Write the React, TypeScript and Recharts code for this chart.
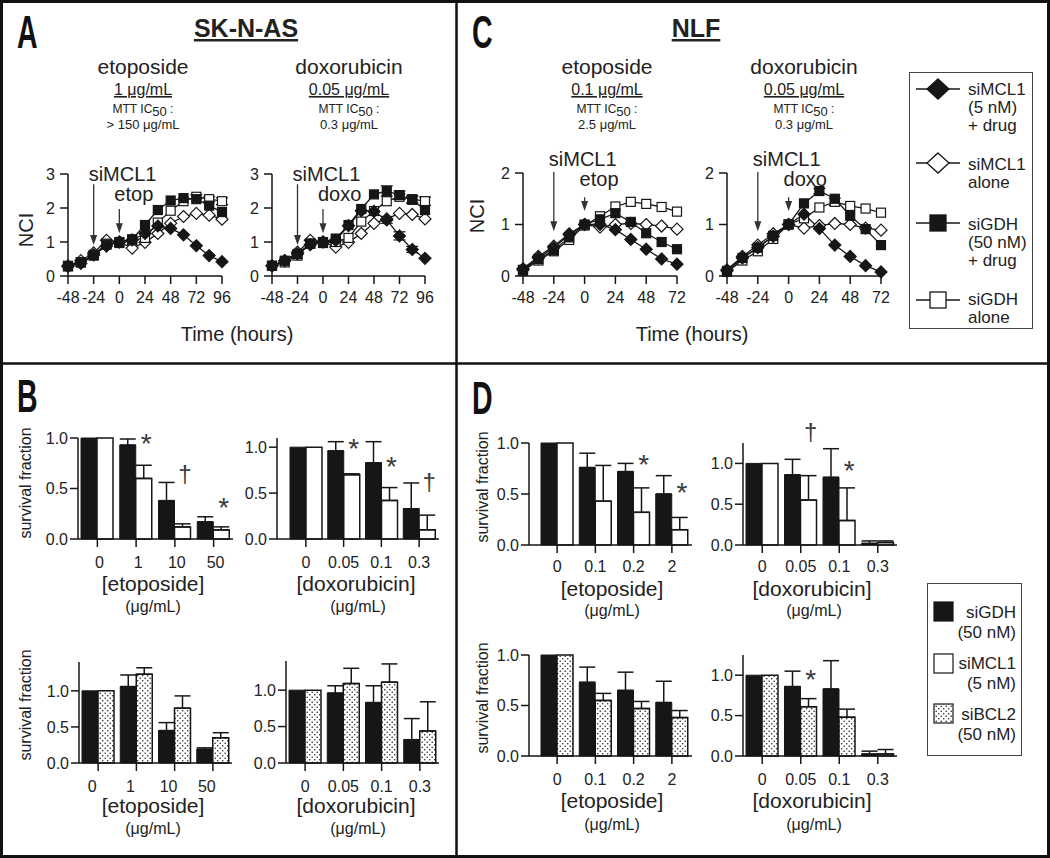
import React from 'react';
import { LineChart, Line, XAxis, YAxis, BarChart, Bar, ErrorBar, ReferenceLine, ReferenceDot } from 'recharts';

const FONT = '"Liberation Sans", Arial, Helvetica, sans-serif';
const INK = '#161616';
const TXT = '#222';
const MT = 45; // room above each plot for arrows / marks

// ---- time courses (NCI) ----
const hoursA = [-48, -36, -24, -12, 0, 12, 24, 36, 48, 60, 72, 84, 96];
const hoursC = [-48, -36, -24, -12, 0, 12, 24, 36, 48, 60, 72];
const tickHoursA = [-48, -24, 0, 24, 48, 72, 96];
const tickHoursC = [-48, -24, 0, 24, 48, 72];

// SK-N-AS, etoposide
const skEtopMclDrug = [0.28, 0.37, 0.62, 0.88, 1.0, 1.06, 1.25, 1.47, 1.4, 1.21, 0.89, 0.6, 0.42];
const skEtopMclAlone = [0.3, 0.45, 0.68, 1.05, 1.0, 0.82, 0.99, 1.25, 1.55, 1.75, 1.84, 1.79, 1.67];
const skEtopGdhDrug = [0.28, 0.4, 0.6, 0.92, 1.0, 1.08, 1.5, 1.94, 2.22, 2.29, 2.26, 2.07, 1.88];
const skEtopGdhAlone = [0.3, 0.4, 0.62, 0.95, 0.97, 1.05, 1.12, 1.57, 1.92, 2.2, 2.33, 2.26, 2.2];
const skEtopGdhAloneErr = [0, 0, 0, 0, 0, 0, 0, 0, 0, 0, 0.06, 0.07, 0.1];

// SK-N-AS, doxorubicin
const skDoxoMclDrug = [0.3, 0.45, 0.65, 0.92, 1.0, 1.05, 1.48, 1.92, 1.9, 1.65, 1.18, 0.78, 0.52];
const skDoxoMclDrugErr = [0, 0, 0, 0, 0, 0, 0, 0, 0, 0.1, 0.12, 0.09, 0];
const skDoxoMclAlone = [0.3, 0.45, 0.7, 1.05, 1.0, 0.85, 0.99, 1.25, 1.55, 1.68, 1.84, 1.81, 1.68];
const skDoxoGdhDrug = [0.3, 0.45, 0.65, 0.95, 1.0, 1.1, 1.5, 1.97, 2.4, 2.5, 2.38, 2.24, 1.94];
const skDoxoGdhDrugErr = [0, 0, 0, 0, 0, 0, 0, 0, 0, 0.15, 0.12, 0.1, 0];
const skDoxoGdhAlone = [0.3, 0.4, 0.6, 0.95, 0.97, 1.0, 1.12, 1.6, 1.91, 2.2, 2.33, 2.26, 2.2];
const skDoxoGdhAloneErr = [0, 0, 0, 0, 0, 0, 0, 0, 0, 0, 0.08, 0.1, 0.12];

// NLF, etoposide
const nlfEtopMclDrug = [0.12, 0.35, 0.55, 0.8, 1.0, 1.0, 0.9, 0.71, 0.52, 0.33, 0.23];
const nlfEtopMclAlone = [0.14, 0.38, 0.58, 0.82, 1.0, 0.95, 1.0, 1.02, 1.0, 0.97, 0.91];
const nlfEtopGdhDrug = [0.12, 0.33, 0.5, 0.75, 1.0, 1.1, 1.22, 1.05, 0.83, 0.66, 0.52];
const nlfEtopGdhAlone = [0.1, 0.3, 0.48, 0.7, 0.98, 1.16, 1.35, 1.44, 1.4, 1.34, 1.25];

// NLF, doxorubicin
const nlfDoxoMclDrug = [0.1, 0.35, 0.55, 0.77, 1.0, 1.2, 0.92, 0.6, 0.38, 0.2, 0.08];
const nlfDoxoMclAlone = [0.12, 0.38, 0.6, 0.82, 1.0, 0.93, 0.98, 1.02, 1.0, 0.93, 0.89];
const nlfDoxoGdhDrug = [0.1, 0.35, 0.55, 0.78, 1.0, 1.41, 1.65, 1.5, 1.17, 0.91, 0.6];
const nlfDoxoGdhDrugErr = [0, 0, 0, 0, 0, 0, 0.05, 0, 0, 0, 0];
const nlfDoxoGdhAlone = [0.08, 0.3, 0.48, 0.72, 1.0, 1.12, 1.33, 1.44, 1.36, 1.31, 1.23];
const nlfDoxoGdhAloneErr = [0, 0, 0, 0, 0, 0, 0, 0.07, 0, 0, 0];

// ---- survival fractions ----
const etopDosesSK = ['0', '1', '10', '50'];
const doxoDoses = ['0', '0.05', '0.1', '0.3'];
const etopDosesNLF = ['0', '0.1', '0.2', '2'];

// B, top: siGDH vs siMCL1
const bEtopGdh = [1.0, 0.93, 0.38, 0.17];
const bEtopGdhErr = [0, 0.06, 0.18, 0.05];
const bEtopMcl = [1.0, 0.6, 0.12, 0.09];
const bEtopMclErr = [0, 0.13, 0.03, 0.03];
const bDoxoGdh = [1.0, 0.96, 0.83, 0.33];
const bDoxoGdhErr = [0, 0.1, 0.23, 0.28];
const bDoxoMcl = [1.0, 0.7, 0.42, 0.1];
const bDoxoMclErr = [0, 0.01, 0.14, 0.16];
// B, bottom: siGDH vs siBCL2
const bEtopGdh2 = [1.0, 1.06, 0.45, 0.19];
const bEtopGdh2Err = [0, 0.16, 0.11, 0.02];
const bEtopBcl = [1.0, 1.23, 0.76, 0.35];
const bEtopBclErr = [0, 0.09, 0.17, 0.07];
const bDoxoGdh2 = [1.0, 0.96, 0.83, 0.32];
const bDoxoGdh2Err = [0, 0.1, 0.23, 0.29];
const bDoxoBcl = [1.0, 1.09, 1.11, 0.44];
const bDoxoBclErr = [0, 0.21, 0.25, 0.4];
// D, top
const dEtopGdh = [1.0, 0.76, 0.72, 0.5];
const dEtopGdhErr = [0, 0.14, 0.08, 0.18];
const dEtopMcl = [1.0, 0.43, 0.32, 0.15];
const dEtopMclErr = [0, 0.35, 0.24, 0.12];
const dDoxoGdh = [1.0, 0.86, 0.83, 0.02];
const dDoxoGdhErr = [0, 0.19, 0.35, 0.03];
const dDoxoMcl = [1.0, 0.55, 0.3, 0.03];
const dDoxoMclErr = [0, 0.3, 0.4, 0.02];
// D, bottom
const dEtopGdh2 = [1.0, 0.73, 0.65, 0.53];
const dEtopGdh2Err = [0, 0.15, 0.18, 0.21];
const dEtopBcl = [1.0, 0.55, 0.47, 0.38];
const dEtopBclErr = [0, 0.07, 0.07, 0.07];
const dDoxoGdh2 = [1.0, 0.86, 0.83, 0.025];
const dDoxoGdh2Err = [0, 0.19, 0.35, 0.035];
const dDoxoBcl = [1.0, 0.61, 0.48, 0.025];
const dDoxoBclErr = [0, 0.1, 0.1, 0.055];

// significance marks: dose, symbol, height (survival fraction units)
const sigBEtopDose = ['1', '10', '50'];
const sigBEtopSym = ['*', '†', '*'];
const sigBEtopAt = [1.0, 0.64, 0.37];
const sigBDoxoDose = ['0.05', '0.1', '0.3'];
const sigBDoxoSym = ['*', '*', '†'];
const sigBDoxoAt = [1.05, 0.85, 0.61];
const sigDEtopDose = ['0.2', '2'];
const sigDEtopSym = ['*', '*'];
const sigDEtopAt = [0.85, 0.57];
const sigDDoxoDose = ['0.05', '0.1'];
const sigDDoxoSym = ['†', '*'];
const sigDDoxoAt = [1.38, 0.98];
const sigDDoxo2Dose = ['0.05'];
const sigDDoxo2Sym = ['*'];
const sigDDoxo2At = [1.02];

const diamondDot = (filled: boolean, r = 6) => (p: any) => {
  const { cx, cy, index } = p;
  if (cx == null || cy == null) return <g key={index} />;
  return (
    <path key={index} d={`M${cx},${cy - r}L${cx + r},${cy}L${cx},${cy + r}L${cx - r},${cy}Z`}
      fill={filled ? INK : '#fff'} stroke={INK} strokeWidth={1.2} />
  );
};
const squareDot = (filled: boolean, r = 4.5) => (p: any) => {
  const { cx, cy, index } = p;
  if (cx == null || cy == null) return <g key={index} />;
  return <rect key={index} x={cx - r} y={cy - r} width={2 * r} height={2 * r} fill={filled ? INK : '#fff'} stroke={INK} strokeWidth={1.2} />;
};

const arrowShape = (label: string, dy: number) => (p: any) => {
  const { x1, y1, x2, y2 } = p;
  return (
    <g>
      <line x1={x1} y1={y1} x2={x2} y2={y2 - 8} stroke="#333" strokeWidth={1.3} />
      <path d={`M${x2 - 3.5},${y2 - 10}L${x2 + 3.5},${y2 - 10}L${x2},${y2}Z`} fill="#333" />
      <text x={x1 - 5} y={y1 - dy} fontSize={20} fontFamily={FONT} fill={TXT}>{label}</text>
    </g>
  );
};

const axisStyle = { stroke: INK, strokeWidth: 1.5 };
const tickFont = { fontSize: 16, fill: TXT, fontFamily: FONT };

function NciChart(props: any) {
  const { hours, ticks, yMax, md, ma, gd, ga, errs = {}, x, y, w, h, drug, arr } = props;
  const rows = hours.map((t: number, i: number) => ({
    t, md: md[i], ma: ma[i], gd: gd[i], ga: ga[i],
    mdE: errs.md ? errs.md[i] : 0, gdE: errs.gd ? errs.gd[i] : 0, gaE: errs.ga ? errs.ga[i] : 0,
  }));
  const yTicks = Array.from({ length: yMax + 1 }, (_, i) => i);
  return (
    <div style={{ position: 'absolute', left: x - 50, top: y - MT }}>
      <LineChart width={w + 60} height={h + MT + 40} data={rows} margin={{ top: MT, right: 10, bottom: 0, left: 0 }}>
        <XAxis dataKey="t" type="number" domain={[hours[0], hours[hours.length - 1]]} ticks={ticks} interval={0}
          height={40} tickSize={8} tickMargin={8} axisLine={axisStyle} tickLine={axisStyle} tick={tickFont} />
        <YAxis type="number" domain={[0, yMax]} ticks={yTicks} width={50} tickSize={8} tickMargin={5}
          axisLine={axisStyle} tickLine={axisStyle} tick={tickFont} />
        <ReferenceLine segment={[{ x: -24, y: arr[0] }, { x: -24, y: arr[1] }]} ifOverflow="visible" shape={arrowShape('siMCL1', arr[4])} />
        <ReferenceLine segment={[{ x: 0, y: arr[2] }, { x: 0, y: arr[3] }]} ifOverflow="visible" shape={arrowShape(drug, arr[5])} />
        <Line dataKey="ma" stroke={INK} strokeWidth={1.3} dot={diamondDot(false)} activeDot={false} isAnimationActive={false} />
        <Line dataKey="ga" stroke={INK} strokeWidth={1.3} dot={squareDot(false)} activeDot={false} isAnimationActive={false}>
          <ErrorBar dataKey="gaE" width={6} stroke={INK} strokeWidth={1.2} />
        </Line>
        <Line dataKey="gd" stroke={INK} strokeWidth={1.3} dot={squareDot(true)} activeDot={false} isAnimationActive={false}>
          <ErrorBar dataKey="gdE" width={6} stroke={INK} strokeWidth={1.2} />
        </Line>
        <Line dataKey="md" stroke={INK} strokeWidth={1.3} dot={diamondDot(true)} activeDot={false} isAnimationActive={false}>
          <ErrorBar dataKey="mdE" width={6} stroke={INK} strokeWidth={1.2} />
        </Line>
      </LineChart>
    </div>
  );
}

const sigShape = (sym: string) => (p: any) => {
  const { cx, cy } = p;
  const fs = sym === '*' ? 28 : 24;
  const base = sym === '*' ? cy + 0.55 * fs : cy + 0.3 * fs;
  return <text x={cx + 10} y={base} textAnchor="middle" fontSize={fs} fontFamily={FONT} fill="#3a3a3a">{sym}</text>;
};

function SurvChart(props: any) {
  const { doses, a, aErr, b, bErr, fill, sig, x, y, w, h, yMax, padL = 0, padR = 0, tickDx = 0, tickGap = 10 } = props;
  const rows = doses.map((c: string, i: number) => ({
    c, a: a[i], aE: aErr[i] ? [0, aErr[i]] : null, b: b[i], bE: bErr[i] ? [0, bErr[i]] : null,
  }));
  return (
    <div style={{ position: 'absolute', left: x - 50, top: y - MT }}>
      <BarChart width={w + 60} height={h + MT + 40} data={rows} barGap={0} margin={{ top: MT, right: 10, bottom: 0, left: 0 }}>
        <XAxis dataKey="c" interval={0} height={40} tickSize={8} tickMargin={tickGap} padding={{ left: padL, right: padR }}
          axisLine={axisStyle} tickLine={axisStyle} tick={{ ...tickFont, dx: tickDx }} />
        <YAxis type="number" domain={[0, yMax]} ticks={[0, 0.5, 1]} tickFormatter={(v: number) => v.toFixed(1)}
          width={50} tickSize={8} tickMargin={2} axisLine={axisStyle} tickLine={axisStyle} tick={tickFont} />
        <Bar dataKey="a" fill={INK} stroke={INK} strokeWidth={1} barSize={16} isAnimationActive={false}>
          <ErrorBar dataKey="aE" width={8} stroke={INK} strokeWidth={1.5} />
        </Bar>
        <Bar dataKey="b" fill={fill} stroke={INK} strokeWidth={1.5} barSize={16} isAnimationActive={false}>
          <ErrorBar dataKey="bE" width={8} stroke={INK} strokeWidth={1.5} />
        </Bar>
        {sig && sig.dose.map((d: string, i: number) => (
          <ReferenceDot key={d} x={d} y={sig.at[i]} ifOverflow="visible" shape={sigShape(sig.sym[i])} />
        ))}
      </BarChart>
    </div>
  );
}

function DrugHeader({ cx, name, conc, ic50 }: any) {
  return (
    <g fontFamily={FONT} fill={TXT} textAnchor="middle">
      <text x={cx} y={74} fontSize={21}>{name}</text>
      <text x={cx} y={95} fontSize={16} textDecoration="underline">{conc}</text>
      <text x={cx} y={113} fontSize={12}>MTT IC<tspan fontSize={13} dy={3}>50</tspan><tspan dy={-3}> :</tspan></text>
      <text x={cx} y={129} fontSize={13}>{ic50}</text>
    </g>
  );
}

const T = (p: any) => <text fontFamily={FONT} fill={TXT} {...p} />;
const Letter = ({ x, y, c }: any) => (
  <text transform={`translate(${x},${y}) scale(0.62,1)`} fontFamily='"Liberation Sans Narrow", "Liberation Sans", sans-serif'
    fontWeight="bold" fontSize={46} fill="#111">{c}</text>
);

export default function App() {
  return (
    <div style={{ position: 'absolute', left: 0, top: 0, width: 1050, height: 858, background: '#fff', overflow: 'hidden' }}>
      <svg width={0} height={0} style={{ position: 'absolute' }}>
        <defs>
          <pattern id="dotfill" width={5} height={5} patternUnits="userSpaceOnUse">
            <rect width={5} height={5} fill="#fff" />
            <circle cx={1.2} cy={1.2} r={0.8} fill="#222" />
            <circle cx={3.7} cy={3.7} r={0.8} fill="#222" />
          </pattern>
        </defs>
      </svg>

      {/* A */}
      <NciChart hours={hoursA} ticks={tickHoursA} yMax={3} x={68} y={174} w={154} h={102} drug="etop"
        md={skEtopMclDrug} ma={skEtopMclAlone} gd={skEtopGdhDrug} ga={skEtopGdhAlone}
        errs={{ ga: skEtopGdhAloneErr }} arr={[2.7, 0.91, 1.97, 1.26, 3, 8]} />
      <NciChart hours={hoursA} ticks={tickHoursA} yMax={3} x={272} y={174} w={153} h={102} drug="doxo"
        md={skDoxoMclDrug} ma={skDoxoMclAlone} gd={skDoxoGdhDrug} ga={skDoxoGdhAlone}
        errs={{ md: skDoxoMclDrugErr, gd: skDoxoGdhDrugErr, ga: skDoxoGdhAloneErr }} arr={[2.7, 0.91, 1.97, 1.26, 3, 8]} />
      {/* C */}
      <NciChart hours={hoursC} ticks={tickHoursC} yMax={2} x={523} y={173} w={154} h={103} drug="etop"
        md={nlfEtopMclDrug} ma={nlfEtopMclAlone} gd={nlfEtopGdhDrug} ga={nlfEtopGdhAlone}
        arr={[2.02, 0.87, 1.53, 1.26, 6, 11]} />
      <NciChart hours={hoursC} ticks={tickHoursC} yMax={2} x={727} y={173} w={154} h={103} drug="doxo"
        md={nlfDoxoMclDrug} ma={nlfDoxoMclAlone} gd={nlfDoxoGdhDrug} ga={nlfDoxoGdhAlone}
        errs={{ gd: nlfDoxoGdhDrugErr, ga: nlfDoxoGdhAloneErr }} arr={[2.02, 0.87, 1.53, 1.26, 6, 11]} />

      {/* B */}
      <SurvChart doses={etopDosesSK} a={bEtopGdh} aErr={bEtopGdhErr} b={bEtopMcl} bErr={bEtopMclErr} fill="#fff"
        sig={{ dose: sigBEtopDose, sym: sigBEtopSym, at: sigBEtopAt }} x={78} y={438} w={155} h={101} yMax={1} tickDx={2} />
      <SurvChart doses={doxoDoses} a={bDoxoGdh} aErr={bDoxoGdhErr} b={bDoxoMcl} bErr={bDoxoMclErr} fill="#fff"
        sig={{ dose: sigBDoxoDose, sym: sigBDoxoSym, at: sigBDoxoAt }} x={277} y={438} w={162} h={101} yMax={1.1} padL={10} padR={1} />
      <SurvChart doses={etopDosesSK} a={bEtopGdh2} aErr={bEtopGdh2Err} b={bEtopBcl} bErr={bEtopBclErr} fill="url(#dotfill)"
        x={79} y={662} w={153} h={101} yMax={1.4} tickDx={-6} />
      <SurvChart doses={doxoDoses} a={bDoxoGdh2} aErr={bDoxoGdh2Err} b={bDoxoBcl} bErr={bDoxoBclErr} fill="url(#dotfill)"
        x={286} y={661} w={153} h={102} yMax={1.4} />
      {/* D */}
      <SurvChart doses={etopDosesNLF} a={dEtopGdh} aErr={dEtopGdhErr} b={dEtopMcl} bErr={dEtopMclErr} fill="#fff" tickGap={8}
        sig={{ dose: sigDEtopDose, sym: sigDEtopSym, at: sigDEtopAt }} x={529} y={443} w={163} h={102} yMax={1} padL={9} padR={1} />
      <SurvChart doses={doxoDoses} a={dDoxoGdh} aErr={dDoxoGdhErr} b={dDoxoMcl} bErr={dDoxoMclErr} fill="#fff" tickGap={8}
        sig={{ dose: sigDDoxoDose, sym: sigDDoxoSym, at: sigDDoxoAt }} x={743} y={443} w={154} h={102} yMax={1.25} />
      <SurvChart doses={etopDosesNLF} a={dEtopGdh2} aErr={dEtopGdh2Err} b={dEtopBcl} bErr={dEtopBclErr} fill="url(#dotfill)"
        x={529} y={655} w={163} h={101} yMax={1} padL={9} padR={1} />
      <SurvChart doses={doxoDoses} a={dDoxoGdh2} aErr={dDoxoGdh2Err} b={dDoxoBcl} bErr={dDoxoBclErr} fill="url(#dotfill)"
        sig={{ dose: sigDDoxo2Dose, sym: sigDDoxo2Sym, at: sigDDoxo2At }} x={743} y={655} w={154} h={101} yMax={1.25} />

      <svg width={1050} height={858} style={{ position: 'absolute', left: 0, top: 0, pointerEvents: 'none' }}>
        {/* frame */}
        <rect x={1.5} y={1.5} width={1047} height={855} fill="none" stroke="#111" strokeWidth={3} />
        <line x1={456.5} y1={0} x2={456.5} y2={858} stroke="#111" strokeWidth={2.5} />
        <line x1={0} y1={363.5} x2={1050} y2={363.5} stroke="#111" strokeWidth={2.5} />

        <Letter x={17} y={48} c="A" />
        <Letter x={472} y={48} c="C" />
        <Letter x={17} y={412} c="B" />
        <Letter x={472} y={414} c="D" />

        <T x={246} y={37} fontSize={25} fontWeight="bold" textAnchor="middle" textDecoration="underline">SK-N-AS</T>
        <T x={696} y={37} fontSize={25} fontWeight="bold" textAnchor="middle" textDecoration="underline">NLF</T>

        <DrugHeader cx={143} name="etoposide" conc="1 μg/mL" ic50="> 150 μg/mL" />
        <DrugHeader cx={349} name="doxorubicin" conc="0.05 μg/mL" ic50="0.3 μg/mL" />
        <DrugHeader cx={607} name="etoposide" conc="0.1 μg/mL" ic50="2.5 μg/mL" />
        <DrugHeader cx={804} name="doxorubicin" conc="0.05 μg/mL" ic50="0.3 μg/mL" />

        <T x={33} y={230} fontSize={20} textAnchor="middle" transform="rotate(-90 33 230)">NCI</T>
        <T x={484} y={216} fontSize={20} textAnchor="middle" transform="rotate(-90 484 216)">NCI</T>
        <T x={237} y={341} fontSize={20} textAnchor="middle">Time (hours)</T>
        <T x={692} y={341} fontSize={20} textAnchor="middle">Time (hours)</T>

        {/* survival axis titles */}
        <T x={31} y={483} fontSize={16} textAnchor="middle" transform="rotate(-90 31 483)">survival fraction</T>
        <T x={31} y={705} fontSize={16} textAnchor="middle" transform="rotate(-90 31 705)">survival fraction</T>
        <T x={488} y={487} fontSize={16} textAnchor="middle" transform="rotate(-90 488 487)">survival fraction</T>
        <T x={488} y={698} fontSize={16} textAnchor="middle" transform="rotate(-90 488 698)">survival fraction</T>

        {[[153, 356, 591, 612], [153, 356, 813, 834], [612, 812, 596, 616], [612, 812, 808, 830]].map(([ex, dx, y1, y2], i) => (
          <g key={i}>
            <T x={ex} y={y1} fontSize={21} textAnchor="middle">[etoposide]</T>
            <T x={ex} y={y2} fontSize={16} textAnchor="middle">(μg/mL)</T>
            <T x={dx} y={y1} fontSize={21} textAnchor="middle">[doxorubicin]</T>
            <T x={dx + 2} y={y2} fontSize={16} textAnchor="middle">(μg/mL)</T>
          </g>
        ))}

        {/* legend: time courses */}
        <rect x={909.5} y={72.5} width={123} height={256} fill="#fff" stroke="#444" strokeWidth={1} />
        {[
          { cy: 89, m: 'd', f: true, lines: ['siMCL1', '(5 nM)', '+ drug'], by: 95 },
          { cy: 163, m: 'd', f: false, lines: ['siMCL1', 'alone'], by: 170 },
          { cy: 223, m: 's', f: true, lines: ['siGDH', '(50 nM)', '+ drug'], by: 230 },
          { cy: 300, m: 's', f: false, lines: ['siGDH', 'alone'], by: 305 },
        ].map((e, i) => (
          <g key={i}>
            <line x1={916} y1={e.cy} x2={960} y2={e.cy} stroke={INK} strokeWidth={1.3} />
            {e.m === 'd'
              ? <path d={`M938,${e.cy - 10}L949,${e.cy}L938,${e.cy + 10}L927,${e.cy}Z`} fill={e.f ? INK : '#fff'} stroke={INK} strokeWidth={1.3} />
              : <rect x={930} y={e.cy - 8} width={16} height={16} fill={e.f ? INK : '#fff'} stroke={INK} strokeWidth={1.3} />}
            {e.lines.map((s, j) => (
              <T key={j} x={968} y={e.by + j * 18} fontSize={17}>{s}</T>
            ))}
          </g>
        ))}

        {/* legend: knockdowns */}
        <rect x={927.5} y={583.5} width={94} height={172} fill="#fff" stroke="#444" strokeWidth={1} />
        {[
          { y: 602, fill: INK, lines: ['siGDH', '(50 nM)'], by: 618 },
          { y: 654, fill: '#fff', lines: ['siMCL1', '(5 nM)'], by: 669 },
          { y: 704, fill: 'url(#dotfill)', lines: ['siBCL2', '(50 nM)'], by: 720 },
        ].map((e, i) => (
          <g key={i}>
            <rect x={934} y={e.y} width={19} height={19} fill={e.fill} stroke={INK} strokeWidth={1.2} />
            {e.lines.map((s, j) => (
              <T key={j} x={1016} y={e.by + j * 20} fontSize={17} textAnchor="end">{s}</T>
            ))}
          </g>
        ))}
      </svg>
    </div>
  );
}
